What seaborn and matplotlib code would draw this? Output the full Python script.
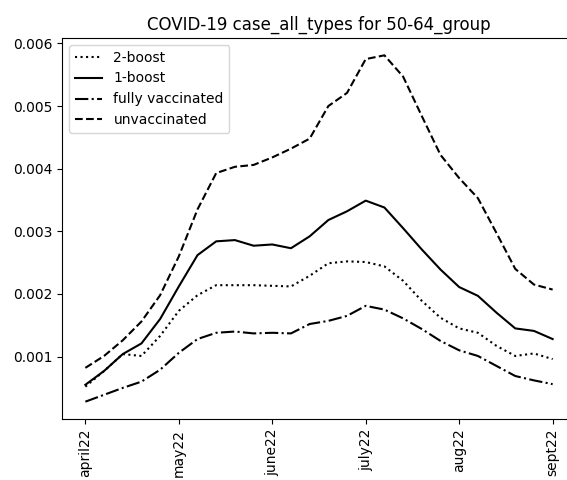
import matplotlib
matplotlib.use("Agg")
import matplotlib.pyplot as plt
import seaborn as sns

# weekly points, one tick label every 5 weeks
semanas = list(range(26))
tick_pos = [0, 5, 10, 15, 20, 25]
tick_labels = ["april22", "may22", "june22", "july22", "aug22", "sept22"]

two_boost = [0.00052, 0.00077, 0.00104, 0.00101, 0.00133, 0.00173, 0.00198, 0.00214, 0.00214,
             0.00214, 0.00213, 0.00212, 0.00229, 0.00249, 0.00252, 0.00251, 0.00244, 0.00221,
             0.00189, 0.00162, 0.00145, 0.00138, 0.00117, 0.00101, 0.00105, 0.00096]
one_boost = [0.00055, 0.00077, 0.00104, 0.00121, 0.00160, 0.00212, 0.00262, 0.00284, 0.00286,
             0.00277, 0.00279, 0.00273, 0.00292, 0.00318, 0.00332, 0.00349, 0.00338, 0.00305,
             0.00271, 0.00239, 0.00211, 0.00197, 0.00170, 0.00145, 0.00141, 0.00128]
fully_vacc = [0.00028, 0.00039, 0.00050, 0.00060, 0.00079, 0.00106, 0.00128, 0.00138, 0.00140,
              0.00137, 0.00138, 0.00137, 0.00152, 0.00157, 0.00165, 0.00181, 0.00175, 0.00161,
              0.00144, 0.00125, 0.00110, 0.00101, 0.00085, 0.00069, 0.00062, 0.00056]
unvacc = [0.00082, 0.00101, 0.00126, 0.00156, 0.00198, 0.00260, 0.00335, 0.00393, 0.00403,
          0.00406, 0.00418, 0.00432, 0.00448, 0.00500, 0.00521, 0.00575, 0.00581, 0.00547,
          0.00484, 0.00422, 0.00385, 0.00353, 0.00297, 0.00240, 0.00215, 0.00207]

series = [
    ("2-boost", two_boost, ":"),
    ("1-boost", one_boost, "-"),
    ("fully vaccinated", fully_vacc, "-."),
    ("unvaccinated", unvacc, "--"),
]

fig = plt.figure(figsize=(5.67, 4.8), dpi=100)
# the reference is cropped: right spine falls just past the image edge
ax = fig.add_axes([62 / 567, 61 / 480, 514 / 567, 381 / 480])

for nombre, valores, estilo in series:
    sns.lineplot(x=semanas, y=valores, ax=ax, color="black", linestyle=estilo,
                 linewidth=1.5, label=nombre)

ax.set_xticks(tick_pos)
ax.set_xticklabels(tick_labels, rotation=90)
ax.set_title("COVID-19 case_all_types for 50-64_group", fontsize=12)
ax.spines["right"].set_visible(False)
ax.legend(loc="upper left")

fig.savefig("out.png", dpi=100)
